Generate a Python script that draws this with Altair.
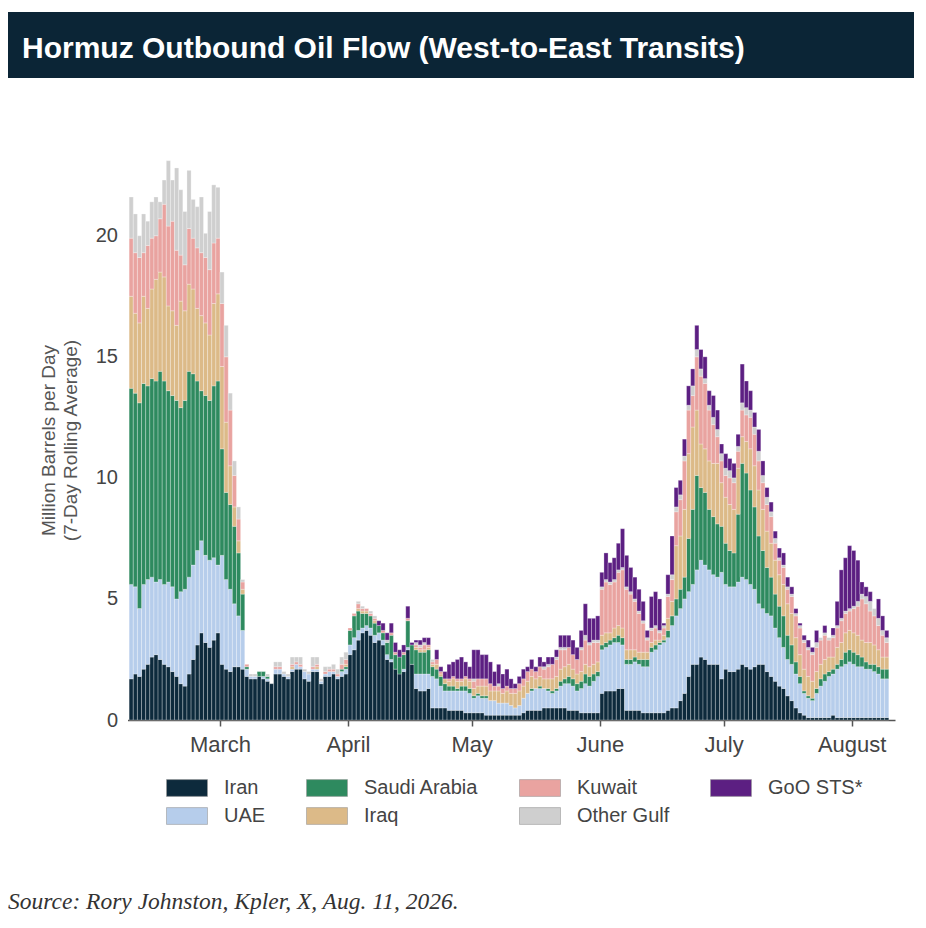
import altair as alt
import pandas as pd

TITLE = "Hormuz Outbound Oil Flow (West-to-East Transits)"
SOURCE = "Source: Rory Johnston, Kpler, X, Aug. 11, 2026."
Y_TITLE = ["Million Barrels per Day", "(7-Day Rolling Average)"]

# day offsets relative to 1 March (first bar = 7 Feb)
FIRST_DAY = -22
MONTH_TICKS = [0, 31, 61, 92, 122, 153]
MONTH_LABELS = ["March", "April", "May", "June", "July", "August"]

# million barrels per day, one value per day (7 Feb .. 10 Aug)
IRAN = [
    1.7, 1.9, 1.8, 2.1, 2.3, 2.6, 2.7, 2.5, 2.3, 2.2, 2.0, 1.8, 1.5, 1.4, 1.9, 2.5, 3.1, 3.6, 3.2, 3.0, 3.3, 3.6,
    2.3, 2.1, 2.0, 2.2, 2.2, 2.1, 1.8,
    1.7, 1.7, 1.8, 1.7, 1.6, 1.5, 1.9, 1.9, 1.8, 1.7, 2.0, 2.1, 2.1, 1.7, 1.6, 2.0, 2.0, 1.5, 1.8, 1.8, 1.9, 1.7, 1.8, 1.9,
    2.7, 2.9, 3.3, 3.6, 3.7, 3.5, 3.2, 3.3, 3.1, 2.5, 2.4, 2.1, 1.9, 2.0, 2.9, 2.3, 1.3, 1.2, 1.2, 1.3, 0.5, 0.5, 0.5,
    0.5, 0.4, 0.4, 0.4, 0.4, 0.3, 0.3, 0.3, 0.3, 0.3, 0.2, 0.2, 0.2, 0.2, 0.2, 0.2, 0.2, 0.2, 0.2, 0.3,
    0.4, 0.4, 0.4, 0.4, 0.5, 0.5, 0.5, 0.5, 0.5, 0.5, 0.4, 0.4, 0.4, 0.3, 0.3, 0.3, 0.3, 0.3,
    1.1, 1.2, 1.2, 1.2, 1.3, 1.3, 0.4, 0.4, 0.4, 0.4, 0.3, 0.3, 0.3, 0.3, 0.3, 0.3,
    0.4, 0.5, 0.5, 0.8, 1.1, 1.8, 2.3, 2.3, 2.6, 2.5, 2.3, 2.3, 2.3, 1.7, 2.1, 2.0, 2.0, 2.1, 2.3, 2.2,
    2.1, 2.2, 2.3, 2.3, 2.0, 1.8, 1.6, 1.4, 1.3, 1.0, 0.8, 0.5, 0.3, 0.2, 0.1, 0.1, 0.1, 0.1, 0.1, 0.1,
    0.2, 0.1, 0.1, 0.1, 0.1, 0.1, 0.1, 0.1, 0.1, 0.1, 0.1, 0.1, 0.1, 0.1,
]
UAE = [
    3.9, 3.6, 2.8, 3.5, 3.5, 3.3, 3.0, 3.3, 3.3, 3.5, 3.5, 3.2, 3.8, 4.0, 4.0, 3.9, 3.9, 3.8, 3.6, 3.6, 3.4, 2.8,
    4.5, 3.7, 3.4, 2.6, 2.1, 1.6, 0.3,
    0.1, 0.1, 0.0, 0.1, 0.1, 0.0, 0.2, 0.2, 0.1, 0.1, 0.1, 0.2, 0.1, 0.3, 0.3, 0.1, 0.1, 0.1, 0.1, 0.2, 0.1, 0.1, 0.2, 0.2,
    0.4, 0.5, 0.4, 0.2, 0.2, 0.3, 0.3, 0.3, 0.2, 0.2, 0.1, 0.0, 0.0, 0.1, 0.1, 0.0, 0.6, 0.7, 0.7, 0.6, 1.3, 1.2, 0.9,
    0.7, 0.8, 0.8, 0.8, 0.8, 0.9, 0.8, 0.6, 0.7, 0.6, 0.7, 0.6, 0.6, 0.5, 0.5, 0.5, 0.4, 0.3, 0.4, 0.6,
    0.7, 0.8, 0.9, 0.9, 0.8, 0.7, 0.6, 0.7, 0.9, 1.0, 1.1, 1.0, 0.8, 1.0, 1.2, 1.1, 1.3, 1.5,
    1.8, 1.8, 1.9, 2.0, 1.9, 1.8, 1.9, 1.9, 2.0, 1.9, 1.9, 1.9, 2.5, 2.6, 2.8, 2.9,
    3.0, 3.4, 3.8, 3.8, 3.9, 3.5, 3.3, 3.9, 4.0, 3.9, 3.9, 3.7, 3.6, 4.4, 3.5, 3.5, 3.5, 3.6, 3.6, 3.6,
    3.5, 3.2, 2.5, 2.3, 2.4, 2.5, 2.2, 2.0, 1.7, 1.5, 1.5, 1.4, 1.2, 0.9, 0.8, 0.7, 1.0, 1.3, 1.5, 1.7,
    1.7, 2.0, 2.1, 2.2, 2.3, 2.2, 2.1, 2.1, 2.0, 2.0, 1.9, 1.8, 1.6, 1.6,
]
SAUDI = [
    8.1, 8.0, 8.5, 8.3, 8.0, 8.2, 8.3, 8.6, 8.4, 7.9, 7.9, 8.2, 7.6, 7.8, 8.5, 7.9, 7.0, 6.2, 6.6, 6.6, 7.1, 7.6,
    4.4, 3.6, 3.5, 3.2, 2.6, 1.5, 0.1,
    0.0, 0.0, 0.2, 0.2, 0.1, 0.0, 0.0, 0.0, 0.0, 0.0, 0.0, 0.0, 0.0, 0.0, 0.0, 0.0, 0.0, 0.0, 0.0, 0.0, 0.0, 0.0, 0.1, 0.1,
    0.6, 0.9, 0.8, 0.6, 0.5, 0.5, 0.5, 0.3, 0.3, 0.5, 1.0, 0.6, 0.7, 0.6, 1.1, 0.8, 1.0, 0.9, 0.9, 1.0, 0.4, 0.4, 0.4,
    0.3, 0.2, 0.2, 0.1, 0.2, 0.2, 0.2, 0.1, 0.1, 0.1, 0.1, 0.0, 0.0, 0.0, 0.0, 0.0, 0.0, 0.0, 0.0, 0.0,
    0.0, 0.1, 0.0, 0.1, 0.0, 0.1, 0.1, 0.1, 0.2, 0.2, 0.3, 0.3, 0.3, 0.3, 0.4, 0.4, 0.3, 0.2,
    0.2, 0.2, 0.2, 0.2, 0.3, 0.3, 0.2, 0.2, 0.2, 0.2, 0.3, 0.3, 0.2, 0.2, 0.1, 0.1,
    0.3, 0.4, 0.7, 0.8, 0.9, 2.2, 3.1, 3.9, 3.0, 3.0, 2.5, 2.4, 2.2, 1.9, 1.7, 1.5, 1.4, 2.8, 4.7, 4.4,
    3.9, 3.4, 2.8, 2.4, 1.9, 1.6, 1.4, 1.3, 1.3, 1.0, 0.8, 0.5, 0.3, 0.1, 0.1, 0.1, 0.2, 0.3, 0.3, 0.2,
    0.2, 0.2, 0.3, 0.5, 0.5, 0.5, 0.5, 0.4, 0.3, 0.2, 0.3, 0.3, 0.4, 0.4,
]
IRAQ = [
    3.8, 3.3, 3.3, 3.6, 3.2, 3.7, 4.2, 4.1, 4.3, 3.5, 3.5, 3.1, 4.4, 3.7, 3.6, 3.5, 3.0, 3.1, 3.0, 2.7, 3.4, 3.6,
    3.4, 2.9, 1.6, 0.8, 0.5, 0.2, 0.0,
    0.0, 0.0, 0.0, 0.0, 0.0, 0.0, 0.0, 0.0, 0.0, 0.0, 0.1, 0.0, 0.0, 0.0, 0.0, 0.0, 0.1, 0.0, 0.0, 0.0, 0.0, 0.0, 0.0, 0.1,
    0.0, 0.0, 0.1, 0.1, 0.1, 0.0, 0.1, 0.0, 0.0, 0.0, 0.0, 0.0, 0.0, 0.0, 0.0, 0.0, 0.1, 0.1, 0.1, 0.1, 0.1, 0.2, 0.1,
    0.2, 0.2, 0.3, 0.3, 0.2, 0.3, 0.3, 0.3, 0.3, 0.4, 0.4, 0.4, 0.4, 0.5, 0.4, 0.5, 0.5, 0.6, 0.6, 0.5,
    0.5, 0.5, 0.4, 0.4, 0.4, 0.4, 0.5, 0.5, 0.5, 0.5, 0.5, 0.4, 0.4, 0.4, 0.4, 0.4, 0.4, 0.4,
    0.4, 0.4, 0.3, 0.4, 0.4, 0.4, 0.4, 0.4, 0.3, 0.3, 0.3, 0.3, 0.2, 0.2, 0.1, 0.2,
    0.5, 0.6, 2.2, 2.2, 2.8, 3.5, 3.4, 2.7, 1.8, 1.8, 2.0, 2.2, 2.5, 1.8, 1.9, 1.9, 1.8, 1.9, 1.1, 1.3,
    1.7, 1.7, 1.9, 1.7, 1.5, 1.4, 1.4, 1.3, 1.3, 1.3, 1.3, 1.0, 0.9, 0.9, 0.8, 0.7, 0.7, 0.6, 0.6, 0.6,
    0.5, 0.7, 0.7, 0.8, 0.8, 0.8, 0.8, 0.7, 0.8, 0.9, 0.8, 0.7, 0.5, 0.5,
]
KUWAIT = [
    2.4, 2.5, 2.7, 1.8, 2.6, 2.1, 1.8, 2.2, 3.0, 3.3, 3.7, 3.1, 1.9, 1.9, 2.3, 2.1, 2.5, 2.6, 2.7, 2.7, 2.5, 2.3,
    2.6, 2.7, 2.3, 1.3, 0.9, 0.3, 0.1,
    0.0, 0.0, 0.0, 0.0, 0.0, 0.0, 0.1, 0.1, 0.0, 0.0, 0.1, 0.1, 0.1, 0.0, 0.0, 0.1, 0.1, 0.0, 0.1, 0.1, 0.1, 0.1, 0.2, 0.2,
    0.1, 0.1, 0.2, 0.1, 0.1, 0.1, 0.1, 0.0, 0.1, 0.0, 0.1, 0.1, 0.0, 0.1, 0.1, 0.0, 0.1, 0.1, 0.2, 0.1, 0.1, 0.2, 0.1,
    0.0, 0.1, 0.1, 0.1, 0.1, 0.1, 0.1, 0.3, 0.3, 0.3, 0.3, 0.3, 0.2, 0.2, 0.2, 0.2, 0.2, 0.2, 0.3, 0.3,
    0.4, 0.3, 0.3, 0.4, 0.4, 0.5, 0.6, 0.7, 0.8, 0.7, 0.7, 0.6, 0.6, 0.9, 1.0, 0.9, 0.9, 0.8,
    1.9, 2.1, 2.0, 1.9, 2.2, 2.4, 2.5, 2.3, 2.0, 1.6, 1.2, 0.5, 0.5, 0.5, 0.3, 0.3,
    0.9, 0.9, 1.4, 1.5, 2.0, 1.8, 1.3, 2.2, 2.8, 2.7, 2.1, 1.6, 1.1, 0.9, 0.9, 1.1, 1.1, 0.7, 1.1, 1.1,
    1.3, 1.3, 1.2, 1.1, 1.1, 1.1, 0.7, 0.6, 0.7, 0.6, 0.7, 0.9, 1.1, 1.1, 1.1, 1.1, 1.0, 1.0, 1.0, 0.7,
    0.8, 0.8, 0.9, 0.8, 0.8, 1.0, 1.2, 1.7, 1.6, 1.3, 1.2, 1.0, 0.9, 0.6,
]
OTHER_GULF = [
    1.7, 1.6, 0.9, 1.6, 1.0, 1.5, 1.6, 0.7, 1.0, 2.7, 1.7, 3.4, 2.7, 2.2, 2.4, 1.6, 1.7, 2.3, 1.0, 2.4, 2.4, 2.1,
    1.3, 1.3, 0.7, 0.6, 0.5, 0.1, 0.0,
    0.1, 0.1, 0.0, 0.0, 0.1, 0.0, 0.2, 0.2, 0.1, 0.1, 0.3, 0.2, 0.3, 0.1, 0.1, 0.4, 0.3, 0.1, 0.2, 0.1, 0.2, 0.2, 0.3, 0.3,
    0.0, 0.0, 0.1, 0.1, 0.0, 0.1, 0.1, 0.0, 0.0, 0.1, 0.0, 0.0, 0.0, 0.0, 0.0, 0.0, 0.1, 0.1, 0.1, 0.0, 0.1, 0.0, 0.0,
    0.0, 0.0, 0.0, 0.0, 0.0, 0.0, 0.0, 0.1, 0.0, 0.0, 0.0, 0.0, 0.0, 0.1, 0.0, 0.0, 0.0, 0.0, 0.0, 0.0,
    0.0, 0.0, 0.0, 0.0, 0.1, 0.1, 0.0, 0.1, 0.1, 0.1, 0.0, 0.0, 0.0, 0.1, 0.2, 0.1, 0.1, 0.1,
    0.1, 0.1, 0.1, 0.1, 0.1, 0.1, 0.1, 0.1, 0.1, 0.1, 0.1, 0.1, 0.1, 0.1, 0.1, 0.1,
    0.1, 0.2, 0.2, 0.2, 0.2, 0.2, 0.4, 0.3, 0.3, 0.2, 0.2, 0.3, 0.3, 0.3, 0.3, 0.3, 0.2, 0.2, 0.3, 0.3,
    0.3, 0.3, 0.4, 0.3, 0.3, 0.2, 0.2, 0.1, 0.1, 0.1, 0.1, 0.1, 0.1, 0.1, 0.1, 0.1, 0.2, 0.1, 0.1, 0.1,
    0.1, 0.1, 0.1, 0.1, 0.1, 0.1, 0.2, 0.2, 0.3, 0.4, 0.3, 0.3, 0.2, 0.2,
]
GOO_STS = [
    0.0, 0.0, 0.0, 0.0, 0.0, 0.0, 0.0, 0.0, 0.0, 0.0, 0.0, 0.0, 0.0, 0.0, 0.0, 0.0, 0.0, 0.0, 0.0, 0.0, 0.0, 0.0,
    0.0, 0.0, 0.0, 0.0, 0.0, 0.0, 0.0,
    0.0, 0.0, 0.0, 0.0, 0.0, 0.0, 0.0, 0.0, 0.0, 0.0, 0.0, 0.0, 0.0, 0.0, 0.0, 0.0, 0.0, 0.0, 0.0, 0.0, 0.0, 0.0, 0.0, 0.0,
    0.0, 0.0, 0.0, 0.0, 0.0, 0.0, 0.0, 0.2, 0.3, 0.3, 0.4, 0.4, 0.3, 0.3, 0.5, 0.1, 0.1, 0.2, 0.2, 0.3, 0.0, 0.4, 0.2,
    0.3, 0.6, 0.6, 0.8, 0.9, 0.6, 0.5, 1.2, 1.2, 1.0, 1.0, 0.9, 0.6, 0.8, 0.6, 0.7, 0.4, 0.2, 0.3, 0.4,
    0.2, 0.4, 0.2, 0.4, 0.2, 0.3, 0.3, 0.3, 0.5, 0.5, 0.5, 0.6, 0.5, 0.7, 1.3, 1.0, 0.9, 1.0,
    0.6, 1.1, 0.8, 0.9, 1.1, 1.6, 1.3, 1.0, 0.9, 0.9, 0.8, 0.3, 1.3, 1.4, 1.3, 0.1,
    0.8, 1.6, 0.8, 0.6, 0.7, 0.8, 0.7, 1.0, 0.8, 0.9, 0.6, 0.9, 0.8, 0.4, 0.6, 0.5, 0.6, 0.5, 1.6, 1.1,
    0.8, 0.6, 0.9, 0.6, 0.4, 0.4, 0.3, 0.4, 0.5, 0.4, 0.3, 0.2, 0.1, 0.2, 0.3, 0.2, 0.5, 0.0, 0.3, 0.0,
    0.3, 1.0, 2.0, 2.2, 2.6, 2.3, 1.7, 0.5, 0.4, 0.4, 0.0, 0.8, 0.6, 0.3,
]

# stacking order (bottom -> top); the 4-column legend fills column by column
SERIES = [
    ("Iran", IRAN),
    ("UAE", UAE),
    ("Saudi Arabia", SAUDI),
    ("Iraq", IRAQ),
    ("Kuwait", KUWAIT),
    ("Other Gulf", OTHER_GULF),
    ("GoO STS*", GOO_STS),
]
NAMES = [s[0] for s in SERIES]
COLORS = ["#0d2a3c", "#b6cdeb", "#2e8a5f", "#dcba88", "#e9a3a0", "#cfcfcf", "#5c1f82"]

rows = []
for rank, (name, vals) in enumerate(SERIES):
    for k, v in enumerate(vals):
        if v > 0:
            d = FIRST_DAY + k
            rows.append({"day": d, "day_end": d + 1, "country": name, "value": v, "rank": rank})
df = pd.DataFrame(rows)

FONT = "Liberation Sans"
label_expr = (
    "[" + ",".join("'" + m + "'" for m in MONTH_LABELS) + "]"
    "[indexof([" + ",".join(str(t) for t in MONTH_TICKS) + "], datum.value)]"
)

VIEW_W = 887      # full width of the lower panel (axis area + plot)
PLOT_X0 = 119.5   # where the plot starts inside the panel

bars = alt.Chart(df).transform_stack(
    stack="value", groupby=["day"], sort=[alt.SortField("rank", order="ascending")],
    as_=["y0", "y1"],
).mark_bar(stroke="white", strokeWidth=0.35, strokeOpacity=0.8).encode(
    x=alt.X(
        "day:Q",
        scale=alt.Scale(domain=[-22.4, 163.5], range=[PLOT_X0, VIEW_W], nice=False, zero=False),
        axis=alt.Axis(
            values=MONTH_TICKS, labelExpr=label_expr, title=None, grid=False,
            domainColor="#555555", domainWidth=1.5, tickColor="#555555", tickWidth=1.5,
            tickSize=6, labelFontSize=22, labelColor="#444444", labelFont=FONT,
            labelPadding=8, labelFlush=False, labelOverlap=False,
        ),
    ),
    x2="day_end:Q",
    y=alt.Y(
        "y0:Q",
        scale=alt.Scale(domain=[0, 23.5], nice=False),
        axis=alt.Axis(
            values=[0, 5, 10, 15, 20], grid=False, domain=False, ticks=False,
            offset=-PLOT_X0,
            labelFontSize=20, labelColor="#444444", labelFont=FONT, labelPadding=10,
            title=Y_TITLE, titleFont=FONT, titleFontSize=19, titleFontWeight="normal",
            titleColor="#555555", titleX=-88, titleY=289, titleAngle=270,
            titleAlign="center", titleBaseline="top", titleLineHeight=22,
        ),
    ),
    y2="y1:Q",
    color=alt.Color(
        "country:N",
        scale=alt.Scale(domain=NAMES, range=COLORS),
        legend=alt.Legend(
            title=None, orient="none", legendX=158, legendY=766, columns=4,
            columnPadding=40, rowPadding=8, padding=0,
            symbolType="M-1,-0.41H1V0.41H-1Z", symbolSize=1681,
            symbolStrokeColor="#9a9a9a", symbolStrokeWidth=0.6,
            labelFontSize=20, labelColor="#444444", labelFont=FONT,
            labelOffset=16, clipHeight=20,
        ),
    ),
).properties(width=VIEW_W, height=569)

header = alt.Chart(pd.DataFrame({"t": [TITLE]})).mark_text(
    align="left", baseline="alphabetic", font=FONT, fontWeight="bold",
    fontSize=30, color="white",
).encode(
    text="t:N", x=alt.value(14), y=alt.value(46),
).properties(
    width=906, height=66,
    view=alt.ViewBackground(fill="#0b2536", strokeWidth=0),
)

chart = alt.concat(header, bars, columns=1, spacing=73).properties(
    padding={"left": 0, "top": 4, "right": 0, "bottom": 0},
    title=alt.TitleParams(
        text=SOURCE, orient="bottom", anchor="start", font="Liberation Serif",
        fontStyle="italic", fontWeight="normal", fontSize=23.5, color="#333333",
        offset=64,
    ),
).configure_view(strokeWidth=0)

chart.save("out.html", embed_options={"renderer": "svg", "actions": False})
